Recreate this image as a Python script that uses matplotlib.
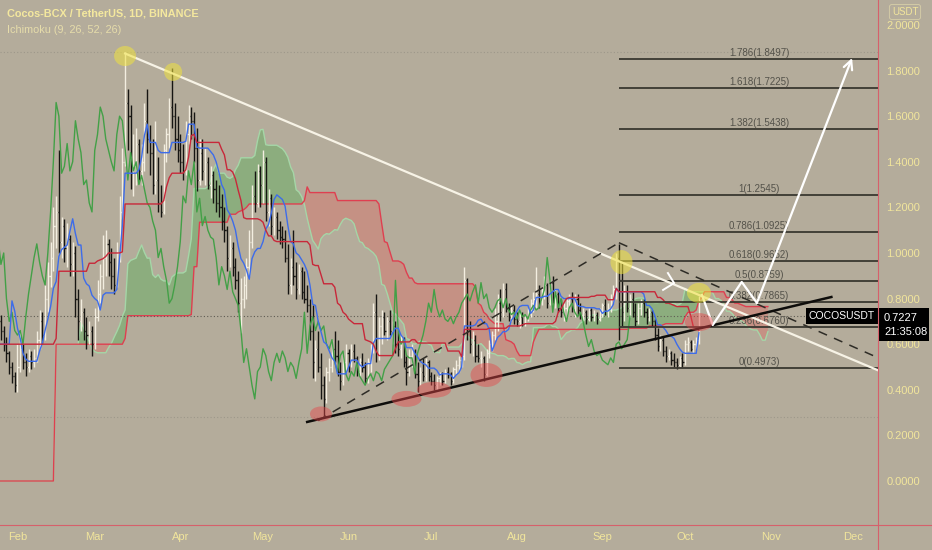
import numpy as np
import pandas as pd
import matplotlib
matplotlib.use("Agg")
import matplotlib.pyplot as plt
import matplotlib.dates as mdates
from matplotlib.patches import Ellipse, Rectangle
from matplotlib.lines import Line2D

# ---- daily bars COCOS/USDT, 2021-01-21 .. 2021-10-06 ----
first_day = "2021-01-21"
first_open = 0.30
highs = [
    1.20, 1.15, 1.10, 0.95, 0.86, 0.73, 0.68, 0.63, 0.57, 0.52, 0.48,  # Jan
    0.60, 0.66, 0.60, 0.56, 0.58, 0.57, 0.58, 0.66, 0.75, 0.74, 0.86, 0.96, 1.05, 1.20,
    1.25, 1.45, 1.16, 1.15, 1.13, 1.08, 1.05, 1.03, 0.84, 0.80, 0.76, 0.72, 0.70, 0.68,  # Feb
    0.76, 0.88, 0.95, 1.08, 1.10, 1.06, 1.02, 0.98, 1.05, 1.25, 1.46, 1.88, 1.72, 1.65,
    1.52, 1.55, 1.50, 1.48, 1.66, 1.72, 1.56, 1.50, 1.58, 1.42, 1.30, 1.48, 1.55, 1.68,
    1.81, 1.66, 1.60,  # Mar
    1.52, 1.48, 1.58, 1.65, 1.64, 1.62, 1.55, 1.50, 1.50, 1.46, 1.42, 1.38, 1.36, 1.32,
    1.30, 1.26, 1.20, 1.12, 1.08, 1.05, 0.98, 0.92, 0.89, 0.90, 0.98, 1.10, 1.30, 1.36,
    1.39, 1.38,  # Apr
    1.45, 1.42, 1.28, 1.26, 1.20, 1.18, 1.14, 1.12, 1.10, 1.04, 0.98, 1.10, 0.96, 0.95,
    0.94, 0.92, 0.86, 0.80, 0.77, 0.62, 0.66, 0.56, 0.46, 0.50, 0.54, 0.62, 0.66, 0.62,
    0.52, 0.56, 0.60,  # May
    0.58, 0.60, 0.60, 0.55, 0.54, 0.56, 0.52, 0.54, 0.60, 0.78, 0.82, 0.72, 0.75, 0.74,
    0.72, 0.75, 0.70, 0.70, 0.66, 0.64, 0.63, 0.55, 0.58, 0.60, 0.58, 0.52, 0.50, 0.54,
    0.54, 0.53,  # Jun
    0.48, 0.47, 0.46, 0.48, 0.48, 0.49, 0.50, 0.48, 0.50, 0.53, 0.55, 0.58, 0.94, 0.89,
    0.70, 0.66, 0.64, 0.60, 0.57, 0.55, 0.58, 0.62, 0.66, 0.76, 0.82, 0.84, 0.87, 0.87,
    0.78, 0.77, 0.77,  # Jul
    0.74, 0.74, 0.74, 0.73, 0.76, 0.80, 0.83, 0.94, 0.86, 0.85, 0.90, 0.87, 0.88, 0.90,
    0.84, 0.83, 0.80, 0.78, 0.80, 0.82, 0.83, 0.82, 0.82, 0.78, 0.76, 0.75, 0.76, 0.76,
    0.75, 0.74, 0.76,  # Aug
    0.78, 0.80, 0.78, 0.82, 0.86, 1.00, 1.04, 0.96, 0.86, 0.86, 0.82, 0.83, 0.78, 0.78,
    0.80, 0.80, 0.76, 0.76, 0.75, 0.71, 0.67, 0.64, 0.63, 0.59, 0.58, 0.57, 0.56, 0.54,
    0.55, 0.56,  # Sep
    0.62, 0.63, 0.62, 0.62, 0.63, 0.81,  # Oct
]
lows = [
    0.00, 0.80, 0.78, 0.70, 0.66, 0.62, 0.57, 0.52, 0.47, 0.43, 0.39,  # Jan
    0.39, 0.48, 0.49, 0.46, 0.48, 0.49, 0.50, 0.52, 0.58, 0.60, 0.62, 0.74, 0.85, 0.92,
    1.02, 1.00, 0.98, 0.96, 0.94, 0.90, 0.90, 0.72, 0.62, 0.66, 0.62, 0.58, 0.60, 0.55,  # Feb
    0.58, 0.70, 0.78, 0.84, 0.90, 0.90, 0.84, 0.82, 0.85, 0.96, 1.15, 1.38, 1.45, 1.28,
    1.25, 1.30, 1.32, 1.30, 1.36, 1.44, 1.34, 1.26, 1.26, 1.18, 1.16, 1.17, 1.40, 1.46,
    1.55, 1.45, 1.40,  # Mar
    1.35, 1.32, 1.34, 1.48, 1.50, 1.40, 1.27, 1.30, 1.32, 1.30, 1.28, 1.24, 1.22, 1.18,
    1.16, 1.10, 1.05, 0.92, 0.94, 0.90, 0.84, 0.74, 0.65, 0.76, 0.80, 0.90, 1.02, 1.18,
    1.20, 1.20,  # Apr
    1.22, 1.14, 1.12, 1.08, 1.08, 1.06, 1.04, 1.02, 0.96, 0.82, 0.82, 0.86, 0.80, 0.82,
    0.80, 0.78, 0.74, 0.62, 0.45, 0.44, 0.48, 0.36, 0.28, 0.34, 0.44, 0.48, 0.52, 0.46,
    0.40, 0.42, 0.48,  # May
    0.48, 0.50, 0.52, 0.46, 0.46, 0.48, 0.43, 0.43, 0.48, 0.56, 0.52, 0.53, 0.60, 0.64,
    0.62, 0.64, 0.60, 0.56, 0.55, 0.54, 0.50, 0.42, 0.46, 0.50, 0.45, 0.39, 0.42, 0.44,
    0.44, 0.44,  # Jun
    0.42, 0.40, 0.40, 0.42, 0.42, 0.43, 0.45, 0.42, 0.43, 0.47, 0.48, 0.50, 0.53, 0.62,
    0.56, 0.55, 0.52, 0.52, 0.50, 0.44, 0.46, 0.54, 0.57, 0.62, 0.66, 0.70, 0.72, 0.74,
    0.70, 0.70, 0.69,  # Jul
    0.68, 0.67, 0.68, 0.68, 0.70, 0.72, 0.74, 0.76, 0.76, 0.77, 0.80, 0.76, 0.77, 0.78,
    0.76, 0.74, 0.72, 0.70, 0.72, 0.75, 0.74, 0.72, 0.73, 0.71, 0.70, 0.69, 0.70, 0.70,
    0.70, 0.69, 0.70,  # Aug
    0.72, 0.73, 0.72, 0.74, 0.78, 0.80, 0.62, 0.68, 0.70, 0.74, 0.72, 0.72, 0.68, 0.69,
    0.73, 0.72, 0.69, 0.70, 0.68, 0.62, 0.57, 0.57, 0.55, 0.52, 0.53, 0.51, 0.50, 0.49,
    0.50, 0.50,  # Sep
    0.51, 0.57, 0.57, 0.56, 0.58, 0.60,  # Oct
]
closes = [
    0.98, 0.95, 0.82, 0.76, 0.70, 0.66, 0.60, 0.56, 0.50, 0.46, 0.42,  # Jan
    0.50, 0.58, 0.52, 0.50, 0.55, 0.52, 0.54, 0.62, 0.70, 0.64, 0.80, 0.90, 0.98, 1.12,
    1.18, 1.05, 1.12, 1.02, 1.06, 0.95, 1.00, 0.80, 0.70, 0.74, 0.66, 0.64, 0.66, 0.60,  # Feb
    0.72, 0.82, 0.90, 0.98, 1.04, 0.96, 0.90, 0.86, 1.00, 1.18, 1.40, 1.66, 1.60, 1.35,
    1.38, 1.48, 1.36, 1.40, 1.58, 1.50, 1.44, 1.30, 1.32, 1.22, 1.18, 1.45, 1.52, 1.64,
    1.60, 1.50, 1.45,  # Mar
    1.40, 1.36, 1.52, 1.60, 1.58, 1.46, 1.32, 1.44, 1.36, 1.40, 1.30, 1.34, 1.28, 1.22,
    1.20, 1.14, 1.10, 0.98, 1.02, 0.94, 0.88, 0.78, 0.80, 0.86, 0.94, 1.05, 1.25, 1.22,
    1.36, 1.30,  # Apr
    1.40, 1.18, 1.24, 1.12, 1.16, 1.10, 1.07, 1.06, 0.98, 0.86, 0.94, 0.90, 0.84, 0.92,
    0.83, 0.80, 0.77, 0.66, 0.52, 0.58, 0.50, 0.42, 0.36, 0.48, 0.50, 0.58, 0.55, 0.48,
    0.44, 0.52, 0.56,  # May
    0.52, 0.57, 0.54, 0.48, 0.52, 0.50, 0.45, 0.52, 0.58, 0.74, 0.56, 0.68, 0.72, 0.66,
    0.70, 0.66, 0.68, 0.60, 0.58, 0.62, 0.52, 0.48, 0.55, 0.57, 0.47, 0.44, 0.48, 0.46,
    0.52, 0.46,  # Jun
    0.44, 0.42, 0.45, 0.47, 0.44, 0.48, 0.47, 0.44, 0.49, 0.51, 0.53, 0.55, 0.88, 0.66,
    0.60, 0.62, 0.55, 0.54, 0.54, 0.47, 0.56, 0.60, 0.64, 0.70, 0.78, 0.74, 0.84, 0.76,
    0.72, 0.75, 0.71,  # Jul
    0.70, 0.72, 0.69, 0.72, 0.74, 0.78, 0.80, 0.82, 0.79, 0.83, 0.86, 0.78, 0.87, 0.80,
    0.82, 0.76, 0.74, 0.76, 0.79, 0.80, 0.76, 0.80, 0.75, 0.73, 0.74, 0.71, 0.75, 0.72,
    0.73, 0.71, 0.75,  # Aug
    0.77, 0.75, 0.76, 0.80, 0.84, 0.98, 0.88, 0.74, 0.83, 0.76, 0.80, 0.74, 0.70, 0.76,
    0.78, 0.74, 0.72, 0.74, 0.70, 0.64, 0.59, 0.62, 0.57, 0.55, 0.56, 0.53, 0.52, 0.51,
    0.54, 0.52,  # Sep
    0.60, 0.61, 0.58, 0.60, 0.62, 0.7227,  # Oct
]
last_price = 0.7227

fib_ratios = ["0", "0.236", "0.382", "0.5", "0.618", "0.786", "1", "1.382", "1.618", "1.786"]
fib_prices = [0.4973, 0.6760, 0.7865, 0.8759, 0.9652, 1.0925, 1.2545, 1.5438, 1.7225, 1.8497]
fib_start = "2021-09-07"

# hand drawn lines (date, price)
resistance = [("2021-03-12", 1.875), ("2021-12-10", 0.485)]
dash_up = [("2021-05-21", 0.265), ("2021-09-07", 1.045)]
dash_down = [("2021-09-07", 1.045), ("2021-12-10", 0.54)]
support = [("2021-05-17", 0.259), ("2021-11-23", 0.807)]
projection = [("2021-10-07 02:00", 0.816), ("2021-10-11", 0.684), ("2021-10-21 12:00", 0.873),
              ("2021-10-27", 0.781), ("2021-11-30 12:00", 1.855)]
chevron = [("2021-09-24 18:00", 0.912), ("2021-09-27", 0.868), ("2021-09-23", 0.838)]
yellow_marks = [("2021-03-12", 1.864), ("2021-03-29 10:00", 1.794), ("2021-09-07 22:00", 0.96),
                ("2021-10-06", 0.825)]
red_marks = [("2021-05-22", 0.294), ("2021-06-22", 0.36), ("2021-07-02", 0.40),
             ("2021-07-21", 0.465), ("2021-10-06", 0.697)]

# ---- layout ----
bg = "#b4ac9b"
axis_red = "#d6606b"
label_col = "#f1e59c"
font = ["Liberation Sans", "DejaVu Sans"]
fig = plt.figure(figsize=(9.32, 5.5), dpi=100, facecolor=bg)
ax = fig.add_axes([0, 25 / 550, 878 / 932, 525 / 550])
ax.set_facecolor(bg)

feb1 = mdates.date2num(pd.Timestamp("2021-02-01"))
x0, x1 = feb1 - 6.34, feb1 + 311.9
y0, y1 = -0.193, 2.1096
ax.set_xlim(x0, x1)
ax.set_ylim(y0, y1)
px_day = 878 / (x1 - x0)
px_price = 525 / (y1 - y0)

dates = pd.date_range(first_day, periods=len(closes), freq="D")
xd = mdates.date2num(dates)
o = np.array([first_open] + closes[:-1])
h = np.array(highs)
l = np.array(lows)
c = np.array(closes)

# ---- ichimoku (9, 26, 52, 26) ----
hi, lo = pd.Series(h), pd.Series(l)


def donchian(n):
    return ((hi.rolling(n, min_periods=1).max() + lo.rolling(n, min_periods=1).min()) / 2).values


tenkan = donchian(9)
kijun = donchian(26)
shift = 25
span_a = np.r_[np.zeros(shift), (tenkan + kijun) / 2]
span_b = np.r_[np.zeros(shift), donchian(52)]
ext_x = mdates.date2num(pd.date_range(first_day, periods=len(closes) + shift, freq="D"))

ax.fill_between(ext_x, span_a, span_b, where=span_a >= span_b, interpolate=True,
                color="#4caf50", alpha=0.38, lw=0, zorder=1)
ax.fill_between(ext_x, span_a, span_b, where=span_a < span_b, interpolate=True,
                color="#ef5350", alpha=0.30, lw=0, zorder=1)
ax.plot(ext_x, span_a, color="#a5d6a7", lw=1, zorder=2)
ax.plot(ext_x, span_b, color="#df3f50", lw=1, zorder=2)

# ---- OHLC bars ----
up = c >= o
for mask, col in [(up, "#f3eee0"), (~up, "#161512")]:
    ax.vlines(xd[mask], l[mask], h[mask], color=col, lw=1.0, zorder=3)
    ax.hlines(o[mask], xd[mask] - 0.42, xd[mask], color=col, lw=1.0, zorder=3)
    ax.hlines(c[mask], xd[mask], xd[mask] + 0.42, color=col, lw=1.0, zorder=3)

ax.plot(xd - shift, c, color="#43a047", lw=1, zorder=4)
ax.plot(xd, tenkan, color="#3d6cea", lw=1, zorder=4)
ax.plot(xd, kijun, color="#c8283a", lw=1, zorder=4)

# high / low / last price lines
vis = xd >= x0
ax.axhline(h[vis].max(), color="#9d978a", lw=0.8, ls=(0, (1, 2)), zorder=1)
ax.axhline(l[vis].min(), color="#9d978a", lw=0.8, ls=(0, (1, 2)), zorder=1)
ax.axhline(last_price, color="#5f5c53", lw=0.8, ls=(0, (1, 2)), zorder=2)

# ---- fibonacci extension ----
fx0 = mdates.date2num(pd.Timestamp(fib_start))
ax.hlines(fib_prices, fx0, x1, color="#3a3830", lw=1.3, zorder=5)
fib_label_x = x0 + 759 / px_day
for r, p in zip(fib_ratios, fib_prices):
    ax.text(fib_label_x, p + 0.004, f"{r}({p:.4f})", ha="center", va="bottom",
            fontsize=7, color="#54524a", family=font, zorder=6)


def line_xy(pts):
    xs = [mdates.date2num(pd.Timestamp(d)) for d, _ in pts]
    return xs, [p for _, p in pts]


ax.plot(*line_xy(resistance), color="#f7f3e6", lw=1.6, zorder=7)
ax.plot(*line_xy(dash_up), color="#2e2c26", lw=1.1, ls=(0, (6, 5)), zorder=7)
ax.plot(*line_xy(dash_down), color="#2e2c26", lw=1.1, ls=(0, (6, 5)), zorder=7)
ax.plot(*line_xy(support), color="#0e0d0b", lw=1.8, zorder=7)
px, py = line_xy(projection)
ax.plot(px[:-1], py[:-1], color="white", lw=1.6, zorder=8)
ax.annotate("", xy=(px[-1], py[-1]), xytext=(px[-2], py[-2]),
            arrowprops=dict(arrowstyle="->", color="white", lw=1.6, mutation_scale=16,
                            shrinkA=0, shrinkB=0), zorder=8)
ax.plot(*line_xy(chevron), color="white", lw=1.4, zorder=8)

yellow_sizes = [(22, 20), (18, 18), (22, 24), (24, 20)]
for (d, p), (w, hh) in zip(yellow_marks, yellow_sizes):
    ax.add_patch(Ellipse((mdates.date2num(pd.Timestamp(d)), p), w / px_day, hh / px_price,
                         fc="#f0e23e", alpha=0.55, lw=0, zorder=9))
red_sizes = [(22, 15), (30, 16), (34, 16), (32, 24), (28, 18)]
for (d, p), (w, hh) in zip(red_marks, red_sizes):
    ax.add_patch(Ellipse((mdates.date2num(pd.Timestamp(d)), p), w / px_day, hh / px_price,
                         fc="#e5474a", alpha=0.45, lw=0, zorder=9))

# ---- axes ----
for s in ax.spines.values():
    s.set_visible(False)
ax.yaxis.tick_right()
yt = np.arange(0, 2.01, 0.2)
ax.set_yticks(yt)
ax.set_yticklabels([f"{v:.4f}" for v in yt])
ax.xaxis.set_major_locator(mdates.MonthLocator())
ax.xaxis.set_major_formatter(mdates.DateFormatter("%b"))
ax.tick_params(axis="y", length=0, pad=6, labelsize=8, labelcolor=label_col)
ax.tick_params(axis="x", length=0, pad=5, labelsize=8, labelcolor=label_col)
for t in ax.get_xticklabels() + ax.get_yticklabels():
    t.set_family(font)

fig.add_artist(Line2D([878 / 932] * 2, [0, 1], transform=fig.transFigure, color=axis_red, lw=0.8))
fig.add_artist(Line2D([0, 1], [25 / 550] * 2, transform=fig.transFigure, color=axis_red, lw=0.8))

# titles
fig.text(7 / 932, 1 - 14 / 550, "Cocos-BCX / TetherUS, 1D, BINANCE", fontsize=7.8,
         fontweight="bold", color="#f4e89e", va="center", family=font)
fig.text(7 / 932, 1 - 30 / 550, "Ichimoku (9, 26, 52, 26)", fontsize=7.8, color="#e6dcaa",
         va="center", family=font)

# price tags
ax.text(875 / 878, last_price, "COCOSUSDT", transform=ax.get_yaxis_transform(), ha="right",
        va="center", fontsize=7.5, color="white", zorder=10, family=font,
        bbox=dict(fc="black", ec="none", boxstyle="square,pad=0.3"))
fig.add_artist(Rectangle((879 / 932, 1 - 341 / 550), 50 / 932, 33 / 550, transform=fig.transFigure,
                         fc="black", ec="none"))
fig.text(884 / 932, 1 - 318 / 550, f"{last_price:.4f}", fontsize=8, color="white", va="center",
         family=font)
fig.text(884 / 932, 1 - 332 / 550, "21:35:08", fontsize=8, color="white", va="center",
         family=font)
fig.text(905 / 932, 1 - 12 / 550, "USDT", fontsize=7, color=label_col, ha="center", va="center",
         family=font, bbox=dict(fc=bg, ec="#d8cfa8", lw=0.6, boxstyle="round,pad=0.25"))

fig.savefig("out.png", dpi=100, facecolor=bg)
